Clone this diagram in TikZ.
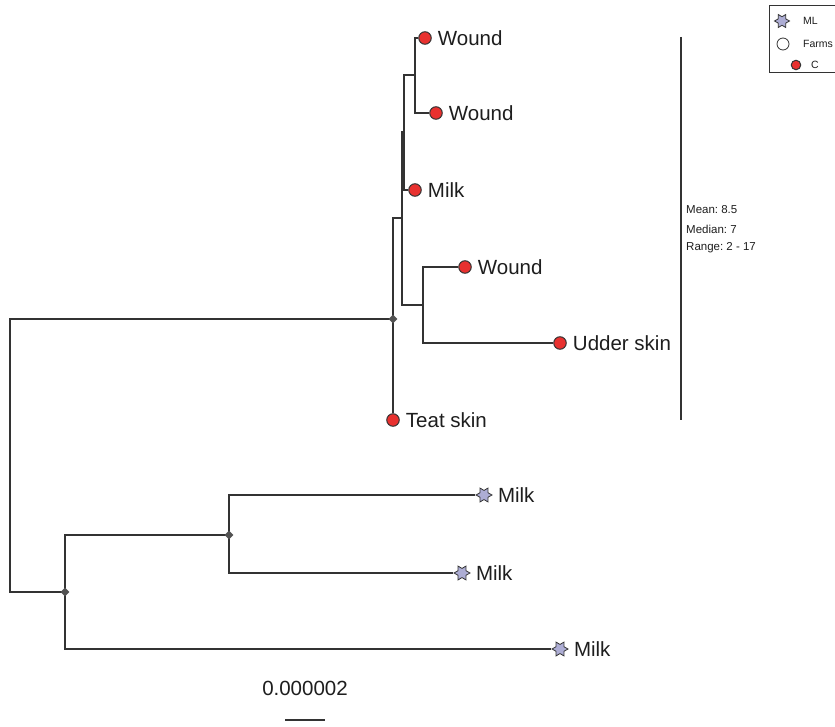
\documentclass[tikz,border=0pt]{standalone}
\usepackage{fontspec}
\setmainfont{Liberation Sans}
\usetikzlibrary{shapes.geometric}
\frenchspacing
\definecolor{brc}{HTML}{333333}
\definecolor{cred}{HTML}{E8312F}
\definecolor{clav}{HTML}{ADADD4}
\definecolor{txt}{HTML}{1E1E1E}
\tikzset{
  branch/.style={draw=brc, line width=1.8pt, line join=miter},
  cleaf/.style={circle, draw=brc, fill=cred, line width=1pt, minimum size=12.5pt, inner sep=0pt},
  sleaf/.style={star, star points=6, star point ratio=1.75, shape border rotate=30, draw=brc, fill=clav, line width=0.8pt, minimum size=16pt, inner sep=0pt},
  junc/.style={diamond, fill=brc!85, minimum size=9pt, inner sep=0pt},
  leaflab/.style={anchor=west, inner sep=0pt, text=txt, font=\fontsize{20.5}{24}\selectfont},
  stat/.style={anchor=west, inner sep=0pt, text=txt, font=\fontsize{11.5}{14}\selectfont},
  leg/.style={anchor=west, inner sep=0pt, text=txt, font=\fontsize{10.5}{12}\selectfont},
}
\begin{document}
\begin{tikzpicture}[x=1pt,y=-1pt]
\useasboundingbox[fill=white] (0,0) rectangle (835,727);
% leaves
\node[cleaf] (w1) at (425,38) {};
\node[cleaf] (w2) at (436,113) {};
\node[cleaf] (m1) at (415,190) {};
\node[cleaf] (w3) at (465,267) {};
\node[cleaf] (us) at (560,343) {};
\node[cleaf] (ts) at (393,420) {};
\node[sleaf] (L1) at (484,495) {};
\node[sleaf] (L2) at (462,573) {};
\node[sleaf] (L3) at (560,649) {};
% internal nodes
\coordinate (D) at (415,75);
\coordinate (C) at (404,132);
\coordinate (E) at (423,305);
\coordinate (B) at (402,218);
\coordinate (A) at (393,319);
\coordinate (G) at (229,535);
\coordinate (F) at (65,592);
\coordinate (R) at (10,455.5);
% branches
\draw[branch] (w1.west) -| (D) |- (w2.west);
\draw[branch] (D) -| (C) |- (m1.west);
\draw[branch] (w3.west) -| (E) |- (us.west);
\draw[branch] (C) -| (B) |- (E);
\draw[branch] (B) -| (A) -- (ts);
\draw[branch] (A) -| (R) |- (F);
\draw[branch] (G) -| (F) |- (L3.west);
\draw[branch] (L1.west) -| (G) |- (L2.west);
\node[junc] (Ad) at (A) {};
\node[junc] (Gd) at (G) {};
\node[junc] (Fd) at (F) {};
% labels
\node[leaflab] (tw1) at ([xshift=6pt]w1.east) {Wound};
\node[leaflab] (tw2) at ([xshift=6pt]w2.east) {Wound};
\node[leaflab] (tm1) at ([xshift=6pt]m1.east) {Milk};
\node[leaflab] (tw3) at ([xshift=6pt]w3.east) {Wound};
\node[leaflab] (tus) at ([xshift=6pt]us.east) {Udder skin};
\node[leaflab] (tts) at ([xshift=6pt]ts.east) {Teat skin};
\node[leaflab] (tL1) at ([xshift=5pt]L1.east) {Milk};
\node[leaflab] (tL2) at ([xshift=5pt]L2.east) {Milk};
\node[leaflab] (tL3) at ([xshift=5pt]L3.east) {Milk};
% scale bar
\node[text=txt, font=\fontsize{20.5}{24}\selectfont, inner sep=0pt] (sc) at (305,688) {0.000002};
\coordinate (s1) at (285,720);
\coordinate (s2) at (325,720);
\draw[branch] (s1) -- (s2);
% stats bar
\coordinate (v1) at (681,37);
\coordinate (v2) at (681,420);
\draw[branch] (v1) -- (v2);
\node[stat] (st1) at (686,210) {Mean: 8.5};
\node[stat] (st2) at (686,229) {Median: 7};
\node[stat] (st3) at (686,248) {Range: 2 - 17};
% legend
\draw[brc, line width=0.8pt] (840,5) -- (769,5) -- (769,72) -- (840,72);
\node[sleaf, minimum size=15pt] (lg1) at (782,21) {};
\node[circle, draw=brc, fill=white, line width=0.8pt, minimum size=12pt, inner sep=0pt] (lg2) at (783,44) {};
\node[cleaf, minimum size=9.5pt] (lg3) at (796,65) {};
\node[leg] (lt1) at (803,21) {ML};
\node[leg] (lt2) at (803,44) {Farms};
\node[leg] (lt3) at (811,65) {C};
\end{tikzpicture}
\end{document}
